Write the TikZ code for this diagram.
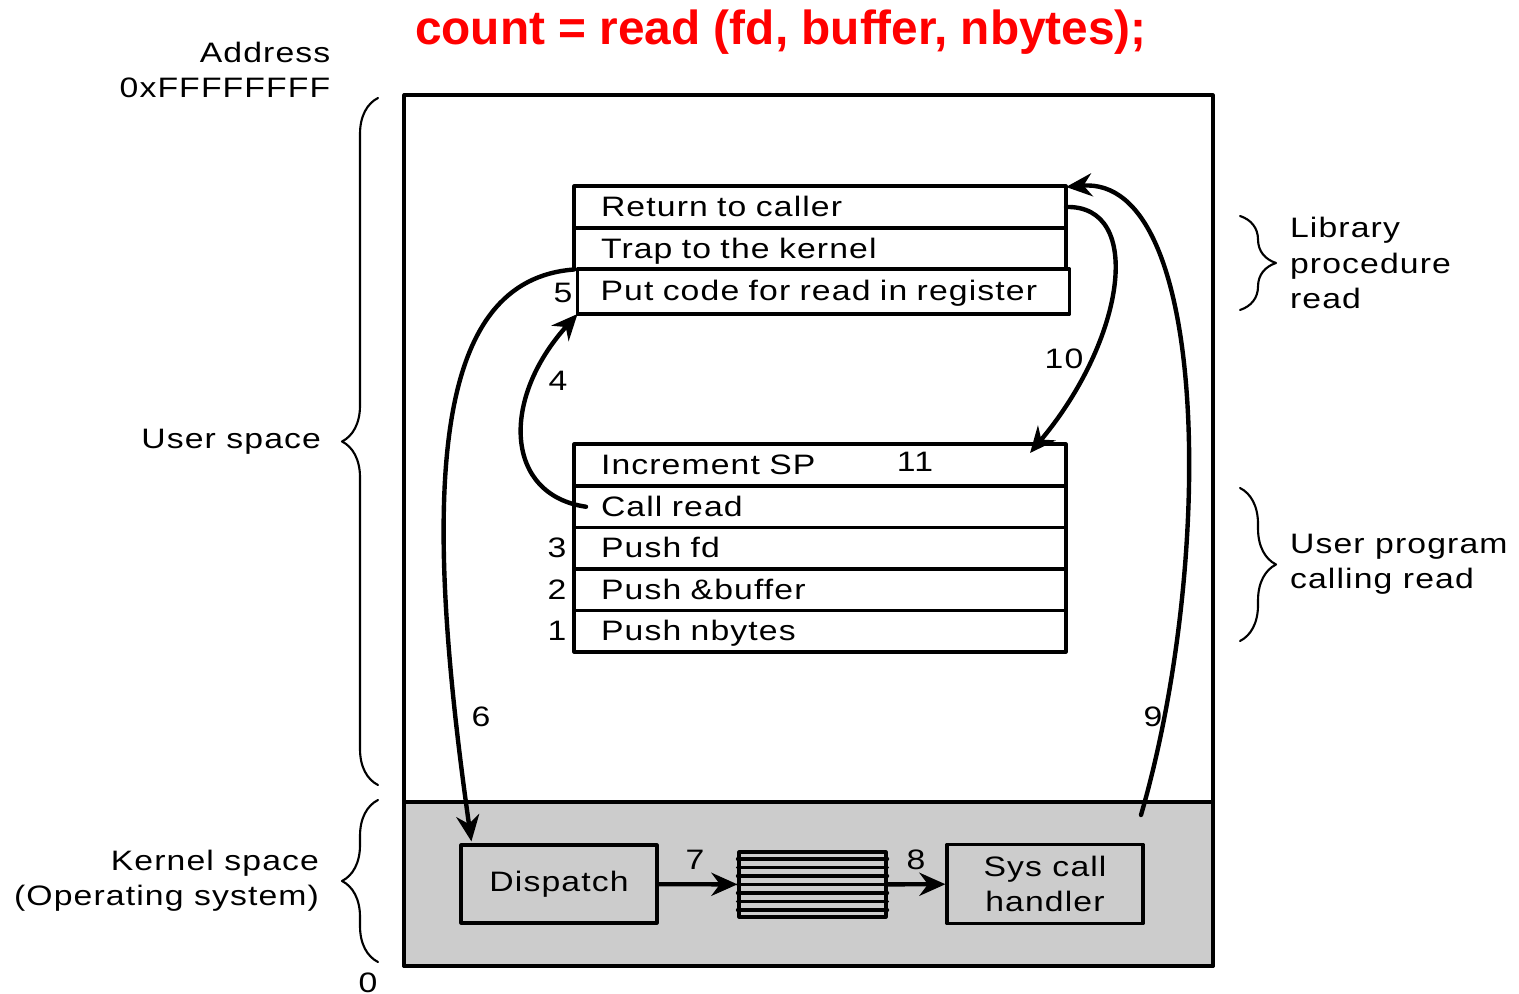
\documentclass[tikz,border=0pt]{standalone}
\usepackage{fontspec}
\setmainfont{Liberation Sans}[FakeStretch=1.2, LetterSpace=4]
\newfontfamily\titlefont{Liberation Sans}
\usetikzlibrary{arrows.meta,calc,decorations.pathreplacing,positioning}
\definecolor{kernelgray}{HTML}{CCCCCC}
\definecolor{callred}{HTML}{FF0000}
\newcommand\figsize{\fontsize{8}{10}\selectfont}
\tikzset{
  >={Stealth[length=2.6mm,width=2.3mm]},
  frame/.style={draw, line width=0.9pt, inner sep=0pt},
  row/.style={
    draw,
    line width=0.9pt,
    outer sep=0pt,
    minimum width=4.92cm,
    minimum height=0.415cm,
    text width=4.38cm,
    inner xsep=0.27cm,
    inner ysep=0pt,
    text height=0.19cm,
    text depth=0pt,
    align=left,
    font=\figsize,
  },
  kbox/.style={
    draw,
    line width=0.9pt,
    minimum width=1.96cm,
    minimum height=0.78cm,
    align=center,
    font=\figsize,
  },
  flow/.style={->, line width=1.25pt},
  num/.style={inner sep=0pt, font=\figsize},
  side/.style={inner sep=0pt, font=\figsize},
  spanbrace/.style={decorate, decoration={brace, amplitude=0.36cm}, line width=0.6pt},
}

\begin{document}
\begin{tikzpicture}[line cap=round, line join=round]
  \useasboundingbox (0,0) rectangle (15.19,-9.94);

  \node[callred, font=\titlefont\bfseries\fontsize{13.6}{16}\selectfont, anchor=base] (title)
    at (7.81,-0.45) {count = read (fd, buffer, nbytes);};

  % address space
  \node[frame, fill=kernelgray, minimum width=8.09cm, minimum height=1.64cm] (kernel) at (8.085,-8.84) {};
  \node[frame, minimum width=8.09cm, minimum height=8.71cm] (memory) at (8.085,-5.305) {};

  % library procedure read
  \node[row, minimum height=0.42cm] (ret) at (8.20,-2.07) {Return to caller};
  \node[row, below=0pt of ret] (trap) {Trap to the kernel};
  \node[row, minimum height=0.45cm, inner xsep=0.23cm, text width=4.46cm] (putcode) at (8.235,-2.915) {Put code for read in register};

  % user program calling read
  \node[row, minimum height=0.42cm] (incsp) at (8.20,-4.65) {Increment SP};
  \node[row, below=0pt of incsp] (callrd) {Call read};
  \node[row, below=0pt of callrd] (pushfd) {Push fd};
  \node[row, below=0pt of pushfd] (pushbuf) {Push \&buffer};
  \node[row, below=0pt of pushbuf] (pushnb) {Push nbytes};

  % kernel side
  \node[kbox] (dispatch) at (5.59,-8.84) {Dispatch};
  \node[frame, minimum width=1.47cm, minimum height=0.65cm] (systable) at (8.125,-8.845) {};
  \foreach \k in {1,...,7}
    \draw[line width=0.9pt] ($(systable.north west)!\k/8!(systable.south west)$) -- ($(systable.north east)!\k/8!(systable.south east)$);
  \node[kbox] (handler) at (10.45,-8.84) {Sys call\\handler};
  \coordinate (sysret) at (11.41,-8.15);

  % step numbers
  \node[num, left=0.07cm of pushnb] (num1) {1};
  \node[num, left=0.07cm of pushbuf] (num2) {2};
  \node[num, left=0.07cm of pushfd] (num3) {3};
  \node[num] (num4) at (5.58,-3.81) {4};
  \node[num] (num5) at (5.63,-2.93) {5};
  \node[num] (num6) at (4.81,-7.17) {6};
  \node[num] (num7) at (6.95,-8.60) {7};
  \node[num] (num8) at (9.16,-8.60) {8};
  \node[num] (num9) at (11.53,-7.17) {9};
  \node[num] (num10) at (10.64,-3.59) {10};
  \node[num] (num11) at (9.15,-4.62) {11};

  \draw[flow] (trap.south west) .. controls (4.35,-2.8) and (4.2,-4.8) .. ($(dispatch.north west)+(0.12,0.02)$);
  \draw[flow] ($(callrd.west)+(0.12,0)$) .. controls (5.05,-4.95) and (5.0,-4.0) .. (putcode.south west);
  \draw[flow] (ret.east) .. controls (11.45,-2.05) and (11.25,-3.4) .. ($(incsp.north east)+(-0.36,-0.09)$);
  \draw[flow] (sysret) .. controls (12.15,-5.6) and (12.1,-1.75) .. ($(ret.north east)+(0,-0.01)$);
  \draw[flow] (dispatch) -- (systable);
  \draw[flow] (systable) -- (handler);

  % address ranges
  \node[side, anchor=east, align=right] (address) at (3.31,-0.70) {Address\\0xFFFFFFFF};
  \node[side] (zero) at (3.68,-9.83) {0};
  \draw[spanbrace] (3.78,-7.85) -- (3.78,-0.98)
    node[midway, left=0.56cm, side, align=right] (userspace) {User space};
  \draw[spanbrace] (3.78,-9.62) -- (3.78,-8.00)
    node[midway, left=0.58cm, side, align=right] (kernelspace) {Kernel space\\(Operating system)};
  \draw[spanbrace] (12.40,-2.16) -- (12.40,-3.10)
    node[midway, right=0.49cm, side, align=left] (libread) {Library\\procedure\\read};
  \draw[spanbrace] (12.40,-4.88) -- (12.40,-6.41)
    node[midway, right=0.49cm, side, align=left] (userprog) {User program\\calling read};
\end{tikzpicture}
\end{document}
